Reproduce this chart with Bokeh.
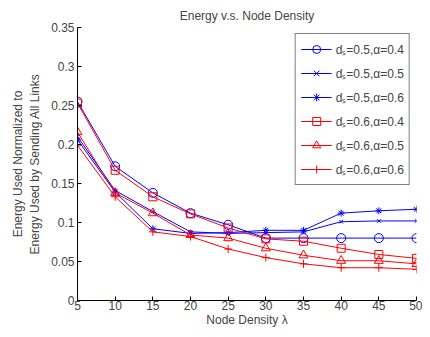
from bokeh.plotting import figure
from bokeh.models import Range1d, FixedTicker, Legend, LegendItem
from bokeh.embed import file_html
from bokeh.resources import INLINE

density = [5, 10, 15, 20, 25, 30, 35, 40, 45, 50]
e_05_04 = [0.255, 0.172, 0.138, 0.112, 0.097, 0.080, 0.080, 0.080, 0.080, 0.080]
e_05_05 = [0.210, 0.141, 0.114, 0.088, 0.086, 0.087, 0.088, 0.101, 0.102, 0.102]
e_05_06 = [0.206, 0.139, 0.092, 0.086, 0.087, 0.090, 0.090, 0.112, 0.115, 0.117]
e_06_04 = [0.253, 0.167, 0.133, 0.111, 0.093, 0.079, 0.076, 0.067, 0.059, 0.054]
e_06_05 = [0.216, 0.138, 0.112, 0.084, 0.080, 0.067, 0.058, 0.051, 0.051, 0.047]
e_06_06 = [0.199, 0.133, 0.088, 0.082, 0.066, 0.055, 0.047, 0.042, 0.042, 0.040]

labels = ["d\u209b=0.5,\u03b1=0.4", "d\u209b=0.5,\u03b1=0.5", "d\u209b=0.5,\u03b1=0.6",
          "d\u209b=0.6,\u03b1=0.4", "d\u209b=0.6,\u03b1=0.5", "d\u209b=0.6,\u03b1=0.6"]
x_ticks = [5, 10, 15, 20, 25, 30, 35, 40, 45, 50]
y_ticks = [0, 0.05, 0.1, 0.15, 0.2, 0.25, 0.3, 0.35]
y_tick_labels = ["0", "0.05", "0.1", "0.15", "0.2", "0.25", "0.3", "0.35"]

FONT = "Liberation Sans"
BLUE = "#0000ff"
RED = "#ff0000"

p = figure(width=422, height=329, output_backend="svg", toolbar_location=None,
           x_range=Range1d(5, 50), y_range=Range1d(0, 0.35),
           min_border_left=77, min_border_right=6, min_border_top=27, min_border_bottom=4)
p.title.text = "Energy v.s. Node Density"
p.title.align = "center"
p.title.text_font = FONT
p.title.text_font_size = "12px"
p.title.text_font_style = "normal"
p.title.standoff = 9
p.outline_line_color = None
p.xgrid.visible = False
p.ygrid.visible = False

for ax in (p.xaxis, p.yaxis):
    ax.major_label_text_font = FONT
    ax.major_label_text_font_size = "12px"
    ax.axis_label_text_font = FONT
    ax.axis_label_text_font_size = "12px"
    ax.axis_label_text_font_style = "normal"
    ax.major_tick_in = 4
    ax.major_tick_out = 0
    ax.minor_tick_line_color = None
    ax.axis_line_color = "black"
    ax.major_tick_line_color = "black"

p.xaxis.ticker = FixedTicker(ticks=x_ticks)
p.yaxis.ticker = FixedTicker(ticks=y_ticks)
p.yaxis.major_label_overrides = {t: s for t, s in zip(y_ticks, y_tick_labels)}
p.xaxis.axis_label = "Node Density \u03bb"
p.yaxis.axis_label = "Energy Used Normalized to\nEnergy Used by Sending All Links"
p.xaxis.major_label_standoff = 0
p.yaxis.major_label_standoff = 3
p.xaxis.axis_label_standoff = 0
p.yaxis.axis_label_standoff = 6

series = [
    (e_05_04, BLUE, "circle", 9, None),
    (e_05_05, BLUE, "x", 5, None),
    (e_05_06, BLUE, "asterisk", 7, BLUE),
    (e_06_04, RED, "square", 8, None),
    (e_06_05, RED, "triangle", 9, None),
    (e_06_06, RED, "cross", 8, None),
]

items = []
for (vals, col, mk, sz, fill), lab in zip(series, labels):
    r1 = p.line(density, vals, line_color=col, line_width=1)
    r2 = p.scatter(density, vals, marker=mk, size=sz, line_color=col,
                   fill_color=fill, line_width=1)
    items.append(LegendItem(label=lab, renderers=[r1, r2]))

legend = Legend(items=items, location="top_right")
legend.label_text_font = FONT
legend.label_text_font_size = "12px"
legend.border_line_color = "black"
legend.border_line_width = 1
legend.background_fill_color = "white"
legend.background_fill_alpha = 1
legend.glyph_width = 31
legend.glyph_height = 20
legend.label_height = 20
legend.spacing = 4
legend.padding = 5
legend.margin = 6
legend.label_standoff = 4
p.add_layout(legend, "center")

open("out.html", "w").write(file_html(p, INLINE))
